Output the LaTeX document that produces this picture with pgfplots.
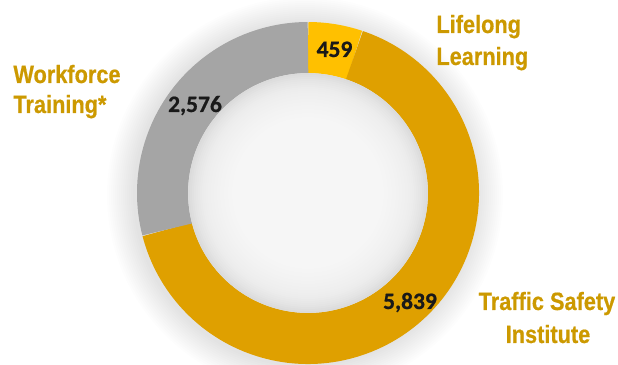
\documentclass[border=0pt]{standalone}
\usepackage{pgfplots}
\pgfplotsset{compat=1.18}
\usepackage{pgfplotstable}
\usepackage{fontspec}
\setmainfont{Liberation Sans}
\newfontfamily\labfont[FakeStretch=0.87, FakeBold=0.6]{Liberation Sans Bold}
\newfontfamily\numfont[FakeBold=0.8]{Carlito Bold}

\definecolor{segA}{HTML}{FFC000}
\definecolor{segB}{HTML}{DFA000}
\definecolor{segC}{HTML}{A5A5A5}
\definecolor{labcol}{HTML}{CC9900}

% participants by program
\pgfplotstableread{
program value
Lifelong 459
Traffic 5839
Workforce 2576
}\donutdata

\pgfplotstablegetelem{0}{value}\of\donutdata \let\va\pgfplotsretval
\pgfplotstablegetelem{1}{value}\of\donutdata \let\vb\pgfplotsretval
\pgfplotstablegetelem{2}{value}\of\donutdata \let\vc\pgfplotsretval
\pgfmathsetmacro\total{\va+\vb+\vc}
\pgfmathsetmacro\angA{90-360*(\va/\total)}
\pgfmathsetmacro\angB{\angA-360*(\vb/\total)}
\pgfmathsetmacro\angC{\angB-360*(\vc/\total)}

% 1px = 0.5pt
\newcommand\labstyle{\labfont\fontsize{12.5}{15}\selectfont}
\newcommand\numstyle{\numfont\fontsize{11.75}{14}\selectfont}

\begin{document}
\begin{tikzpicture}
\begin{axis}[
    x=0.5pt, y=0.5pt,
    xmin=0, xmax=618, ymin=0, ymax=365,
    hide axis,
    clip=true,
]
  % soft shadow round the ring
  \pgfplotsinvokeforeach{86,87,88,89,90,91,92,93,94,95,96,97,98,99}{
    \fill[black, opacity=0.009] (axis cs:305,170) circle[radius=#1pt];
  }

  % ring segments, clockwise from the top
  \draw[line width=25.5pt, segA] ([shift={(90:72.75pt)}]axis cs:308,172)
      arc[start angle=90, end angle=\angA, radius=72.75pt];
  \draw[line width=25.5pt, segB] ([shift={(\angA:72.75pt)}]axis cs:308,172)
      arc[start angle=\angA, end angle=\angB, radius=72.75pt];
  \draw[line width=25.5pt, segC] ([shift={(\angB:72.75pt)}]axis cs:308,172)
      arc[start angle=\angB, end angle=\angC, radius=72.75pt];

  % shaded hole
  \fill[black!14] (axis cs:308,172) circle[radius=59.9pt];
  \pgfplotsinvokeforeach{59,58,57,56,55,54,53,52,51,50,48.5,47,45.5,44,42,40,38,35,32,28}{
    \fill[white, opacity=0.1] (axis cs:308,172) circle[radius=#1pt];
  }

  % values
  \node[anchor=base, inner sep=0, black!90, font=\numstyle] at (axis cs:334.5,308) {459};
  \node[anchor=base, inner sep=0, black!90, font=\numstyle] at (axis cs:195,253) {2,576};
  \node[anchor=base, inner sep=0, black!90, font=\numstyle] at (axis cs:410,56) {5,839};

  % program names
  \node[anchor=base west, inner sep=0, labcol, font=\labstyle] at (axis cs:436,332) {Lifelong};
  \node[anchor=base west, inner sep=0, labcol, font=\labstyle] at (axis cs:436,300) {Learning};
  \node[anchor=base west, inner sep=0, labcol, font=\labstyle] at (axis cs:13,282) {Workforce};
  \node[anchor=base west, inner sep=0, labcol, font=\labstyle] at (axis cs:13,252) {Training*};
  \node[anchor=base, inner sep=0, labcol, font=\labstyle] at (axis cs:547,55) {Traffic Safety};
  \node[anchor=base, inner sep=0, labcol, font=\labstyle] at (axis cs:548,22) {Institute};
\end{axis}
\pgfresetboundingbox
\path (current axis.south west) rectangle (current axis.north east);
\end{tikzpicture}
\end{document}
